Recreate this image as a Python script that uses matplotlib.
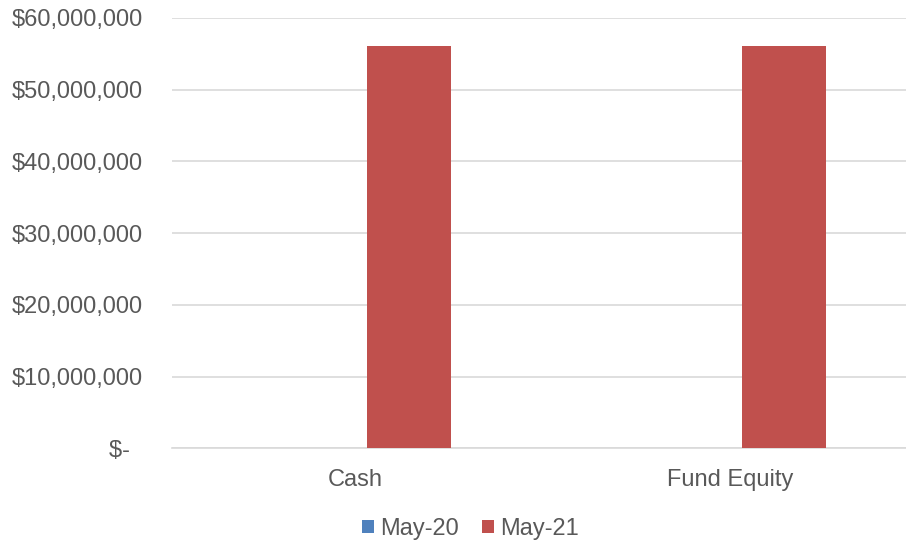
import numpy as np
import matplotlib.pyplot as plt
from matplotlib.ticker import FuncFormatter

plt.rcParams['font.family'] = ['Liberation Sans', 'DejaVu Sans']

categories = ['Cash', 'Fund Equity']
series_names = ['May-20', 'May-21']
may20 = [0, 0]
may21 = [56100000, 56100000]
colors = ['#4f81bd', '#c0504d']

fig = plt.figure(figsize=(9.06, 5.42), dpi=100)
ax = fig.add_axes([0.19, 0.173, 0.81, 0.794])

x = np.arange(len(categories))
w = 0.223
off = 0.145
ax.bar(x - off, may20, w, color=colors[0], label=series_names[0], zorder=3)
ax.bar(x + off, may21, w, color=colors[1], label=series_names[1], zorder=3)

ax.set_xlim(-0.487, 1.47)
ax.set_ylim(0, 60000000)
ax.set_yticks(np.arange(0, 60000001, 10000000))


def money(v, pos):
    if v == 0:
        return '$-  '
    return '${:,.0f}'.format(v)


ax.yaxis.set_major_formatter(FuncFormatter(money))
ax.set_xticks(x)
ax.set_xticklabels(categories)
ax.tick_params(axis='both', length=0, labelsize=17, labelcolor='#595959')
ax.tick_params(axis='y', pad=21)
ax.tick_params(axis='x', pad=15)
ax.grid(axis='y', color='#d9d9d9', linewidth=1.2, zorder=0)
for s in ['top', 'right', 'left']:
    ax.spines[s].set_visible(False)
ax.spines['bottom'].set_color('#d9d9d9')
ax.spines['bottom'].set_linewidth(1.2)

fig.legend(loc='lower center', bbox_to_anchor=(0.519, -0.035), ncol=2, frameon=False,
           fontsize=17, labelcolor='#595959', handlelength=0.5, handleheight=0.5,
           handletextpad=0.25, columnspacing=1.0)

fig.savefig('out.png', dpi=100)
